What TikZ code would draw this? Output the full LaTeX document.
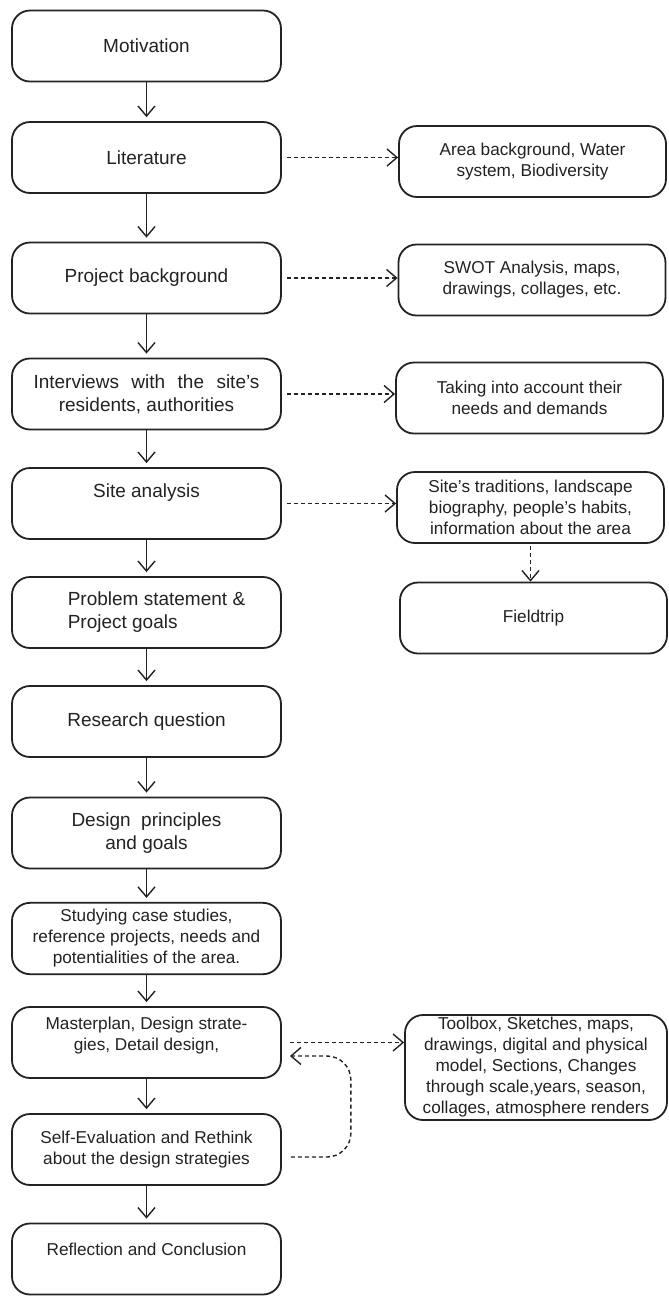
\documentclass[tikz,border=0pt]{standalone}
\usepackage{fontspec}
\setmainfont{Liberation Sans}
\usetikzlibrary{arrows.meta}
\definecolor{ink}{HTML}{222222}

\begin{document}
\begin{tikzpicture}[
    x=0.5pt, y=-0.5pt,
    stage/.style={
        rectangle,
        rounded corners=9pt,
        draw=ink,
        line width=0.9pt,
        minimum width=134.5pt,
        minimum height=35.5pt,
        align=center,
        text=ink,
        font=\fontsize{9.5}{11.5}\selectfont
    },
    info/.style={
        stage,
        minimum width=133.5pt,
        font=\fontsize{8.6}{10.5}\selectfont
    },
    smalltext/.style={
        font=\fontsize{8.6}{10.5}\selectfont
    },
    flow/.style={
        -{Straight Barb[length=5pt,width=8.5pt]},
        draw=ink,
        line width=0.7pt,
        shorten >=2pt
    },
    hint/.style={
        flow,
        dash pattern=on 2pt off 1.5pt,
        shorten >=0pt
    }
]
\useasboundingbox (0,0) rectangle (669,1298);

% Main steps
\node[stage] (mot) at (146.5,46) {Motivation};
\node[stage] (lit) at (146.5,157.5) {Literature};
\node[stage] (bkg) at (146.5,278) {Project background};
\node[stage] (intv) at (146.5,394) {\makebox[113pt][s]{Interviews with the site’s}\\ residents, authorities};
\node[stage] (site) at (146.5,503.5) {Site analysis\\[1pt]\mbox{}};
\node[stage, align=left] (prob) at (146.5,612.5) {\hspace*{10pt}Problem statement \&\\ \hspace*{10pt}Project goals};
\node[stage] (rq) at (146.5,721.5) {Research question};
\node[stage] (dp) at (146.5,833) {Design\ \ principles\\ and goals};
\node[stage, smalltext] (cases) at (146.5,938.5) {Studying case studies,\\ reference projects, needs and\\ potentialities of the area.};
\node[stage, smalltext] (master) at (146.5,1042.5) {Masterplan, Design strate-\\ gies, Detail design,\\[-2pt]\mbox{}};
\node[stage, smalltext] (eval) at (146.5,1149.5) {Self-Evaluation and Rethink\\ about the design strategies};
\node[stage, smalltext] (refl) at (146.5,1259) {Reflection and Conclusion\\[-1pt]\mbox{}};

% Side notes
\node[info] (area) at (532.5,161.5) {Area background, Water\\ system, Biodiversity};
\node[info] (swot) at (532,280) {SWOT Analysis, maps,\\ drawings, collages, etc.};
\node[info] (needs) at (529.5,398) {Taking into account their\\ needs and demands};
\node[info] (trad) at (530.5,507.5) {Site’s traditions, landscape\\ biography, people’s habits,\\ information about the area};
\node[info] (trip) at (533.5,618) {Fieldtrip};
\node[info, minimum width=131pt, minimum height=52.5pt, inner ysep=1pt] (tools) at (536,1067.5) {Toolbox, Sketches, maps,\\ drawings, digital and physical\\ model, Sections, Changes\\ through scale,years, season,\\ collages, atmosphere renders};

% Main flow
\draw[flow] (mot) -- (lit);
\draw[flow] (lit) -- (bkg);
\draw[flow] (bkg) -- (intv);
\draw[flow] (intv) -- (site);
\draw[flow] (site) -- (prob);
\draw[flow] (prob) -- (rq);
\draw[flow] (rq) -- (dp);
\draw[flow] (dp) -- (cases);
\draw[flow] (cases) -- (master);
\draw[flow] (master) -- (eval);
\draw[flow] (eval) -- (refl);

% Dotted links
\draw[hint] ([xshift=2.5pt]lit.east) -- (lit.east -| area.west);
\draw[hint] ([xshift=2.5pt]bkg.east) -- (bkg.east -| swot.west);
\draw[hint] ([xshift=2.5pt]intv.east) -- (intv.east -| needs.west);
\draw[hint] ([xshift=2.5pt]site.east) -- (site.east -| trad.west);
\draw[hint] ([yshift=-1pt]trad.south) -- (trad.south |- trip.north);
\draw[hint] ([xshift=4pt]master.east) -- (master.east -| tools.west);
\draw[hint, rounded corners=12pt] ([xshift=4.5pt,yshift=-3.75pt]eval.east) -- ++(30pt,0) |- ([xshift=4pt,yshift=-6.75pt]master.east);

\end{tikzpicture}
\end{document}
